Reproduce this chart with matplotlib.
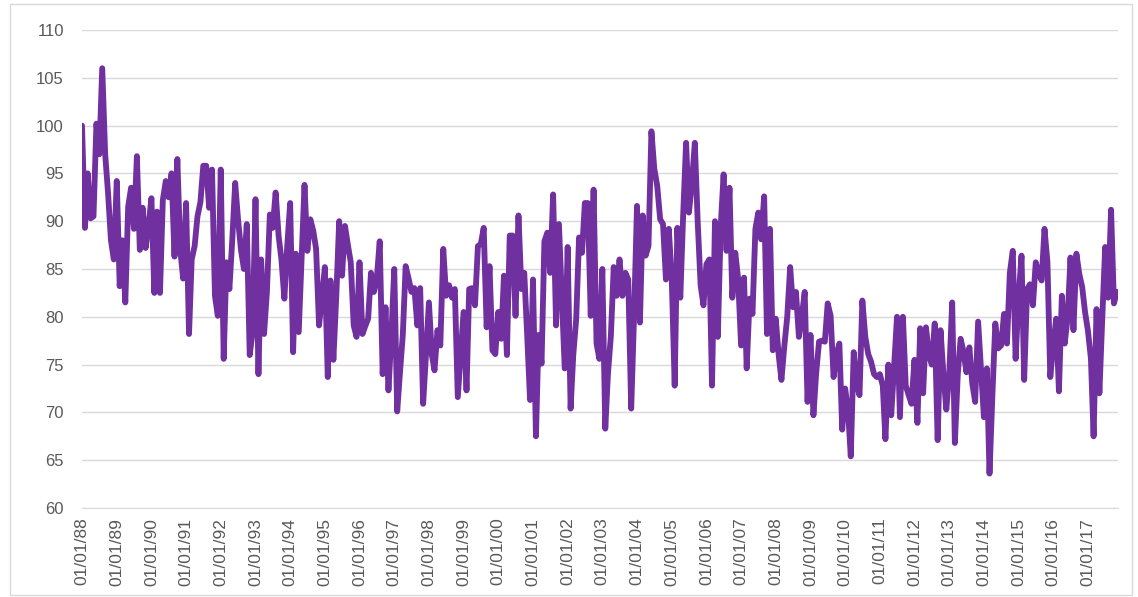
import matplotlib
matplotlib.use('Agg')
import matplotlib.pyplot as plt
import matplotlib.dates as mdates
from matplotlib.patches import Rectangle
import pandas as pd

# monthly index values, Jan 1988 .. Nov 2017
v88 = [100, 89.3, 95, 90.3, 90.5, 100.2, 97, 106, 97, 93, 88, 86]
v89 = [94.2, 83.2, 88, 81.5, 91.5, 93.5, 89.2, 96.8, 87, 91.4, 87.2, 89.5]
v90 = [92.4, 82.5, 91, 82.5, 92.2, 94.2, 92.5, 95, 86.3, 96.5, 87, 84]
v91 = [91.9, 78.2, 86, 87.4, 90.5, 92, 95.8, 95.8, 91.4, 95.4, 82.2, 80.1]
v92 = [95.4, 75.6, 85.7, 82.9, 88, 94, 90.2, 87, 85, 89.7, 76, 78.4]
v93 = [92.3, 74, 86, 78.2, 82.6, 90.7, 89.3, 93, 88.5, 86, 81.9, 87.4]
v94 = [91.9, 76.3, 86.6, 78.4, 86, 93.8, 86.9, 90.2, 89, 87.1, 79.1, 82]
v95 = [85.2, 73.7, 83.8, 75.5, 82, 90, 84.3, 89.5, 87.5, 85.7, 79.1, 77.9]
v96 = [85.7, 78.2, 79, 79.8, 84.6, 82.6, 84, 87.9, 74, 81, 72.3, 78]
v97 = [85, 70.1, 74, 78.1, 85.3, 84, 82.6, 83, 79.1, 83, 70.9, 76]
v98 = [81.5, 76, 74.4, 78.6, 77, 87.1, 82.2, 83.3, 82, 82.9, 71.6, 76]
v99 = [80.5, 72.3, 82.9, 83, 81.2, 87.4, 87.6, 89.3, 78.9, 85.3, 76.5, 76.1]
v00 = [80.5, 77.7, 84.3, 76, 88.5, 88.5, 80.1, 90.6, 82.9, 84.6, 78, 71.3]
v01 = [83.9, 67.5, 78.1, 75.1, 87.9, 88.8, 84.6, 92.8, 79.1, 89.7, 82, 74.6]
v02 = [87.3, 70.4, 76, 79.8, 88.3, 86.7, 91.9, 91.9, 80.1, 93.3, 77.2, 75.6]
v03 = [85, 68.3, 74, 78, 85.2, 82.2, 86, 82.2, 84.6, 83.9, 70.4, 80]
v04 = [91.6, 79.4, 90.6, 86.4, 87.4, 99.4, 95.5, 93.7, 90.2, 89.7, 83.9, 89.2]
v05 = [84, 72.8, 89.3, 82, 90.6, 98.2, 90.9, 94, 98.2, 90, 83.3, 81.2]
v06 = [85.5, 86, 72.8, 90, 77.9, 89.5, 94.9, 86.9, 93.5, 82, 86.7, 84]
v07 = [77, 84.1, 74.6, 81.9, 80.3, 89.2, 90.9, 88.1, 92.6, 78.2, 89.2, 76.5]
v08 = [79.8, 76, 73.4, 77, 80, 85.2, 81, 82.6, 77.9, 80, 82.6, 71.1]
v09 = [78.1, 69.7, 74, 77.4, 77.5, 77.4, 81.4, 80.1, 73.7, 76, 77.2, 68.2]
v10 = [72.5, 70.1, 65.4, 76.3, 73, 71.8, 81.7, 77.9, 76.1, 75.3, 74, 73.7]
v11 = [74, 72.8, 67.2, 75, 69.7, 75, 80, 69.5, 80, 72.8, 71.8, 70.9]
v12 = [75.5, 68.9, 78.8, 72, 78.9, 76, 75, 79.3, 67.1, 78.6, 74, 70.3]
v13 = [74, 81.5, 66.8, 74, 77.7, 76.3, 74.2, 76.8, 73, 71.1, 79.5, 74.6]
v14 = [69.5, 74.6, 63.6, 72, 79.3, 76.7, 77, 80.3, 77.2, 84.6, 86.9, 75.6]
v15 = [82, 86.4, 73.4, 82.9, 83.4, 81.2, 85.7, 84.5, 83.8, 89.2, 85.7, 73.7]
v16 = [77, 79.8, 72.2, 82.2, 77.2, 80, 86.2, 78.6, 86.6, 84.5, 83.1, 80.5]
v17 = [78.5, 75.6, 67.5, 80.8, 72, 80, 87.3, 82, 91.2, 81.4, 82.6]

values = (v88 + v89 + v90 + v91 + v92 + v93 + v94 + v95 + v96 + v97 +
          v98 + v99 + v00 + v01 + v02 + v03 + v04 + v05 + v06 + v07 +
          v08 + v09 + v10 + v11 + v12 + v13 + v14 + v15 + v16 + v17)
dates = pd.date_range('1988-01-01', periods=len(values), freq='MS')

yticks = [60, 65, 70, 75, 80, 85, 90, 95, 100, 105, 110]

# %% plot
plt.rcParams['font.family'] = ['Liberation Sans', 'DejaVu Sans']
fig = plt.figure(figsize=(11.38, 5.97), dpi=100)
ax = fig.add_axes([82 / 1138, 1 - 508 / 597, (1118 - 82) / 1138, (508 - 30) / 597])

ax.plot(dates, values, color='#7030A0', lw=4.2, solid_joinstyle='round',
        solid_capstyle='round', zorder=3)

ax.set_ylim(60, 110)
ax.set_yticks(yticks)
ax.set_xlim(dates[0], dates[-1] + pd.Timedelta(days=12))
ax.xaxis.set_major_locator(mdates.YearLocator())
ax.xaxis.set_major_formatter(mdates.DateFormatter('%d/%m/%y'))

ax.grid(axis='y', color='#D9D9D9', lw=1)
ax.set_axisbelow(True)
for s in ['top', 'right', 'left']:
    ax.spines[s].set_visible(False)
ax.spines['bottom'].set_color('#D9D9D9')
ax.tick_params(axis='y', length=0, pad=13, labelsize=12, labelcolor='#595959')
ax.tick_params(axis='x', length=0, pad=7, labelsize=12.5, labelcolor='#595959', labelrotation=90)

# chart frame
fig.patches.append(Rectangle((10 / 1138, 0.003), 1122 / 1138, 0.99, transform=fig.transFigure,
                             fill=False, edgecolor='#D9D9D9', lw=1))

fig.savefig('out.png', dpi=100)
